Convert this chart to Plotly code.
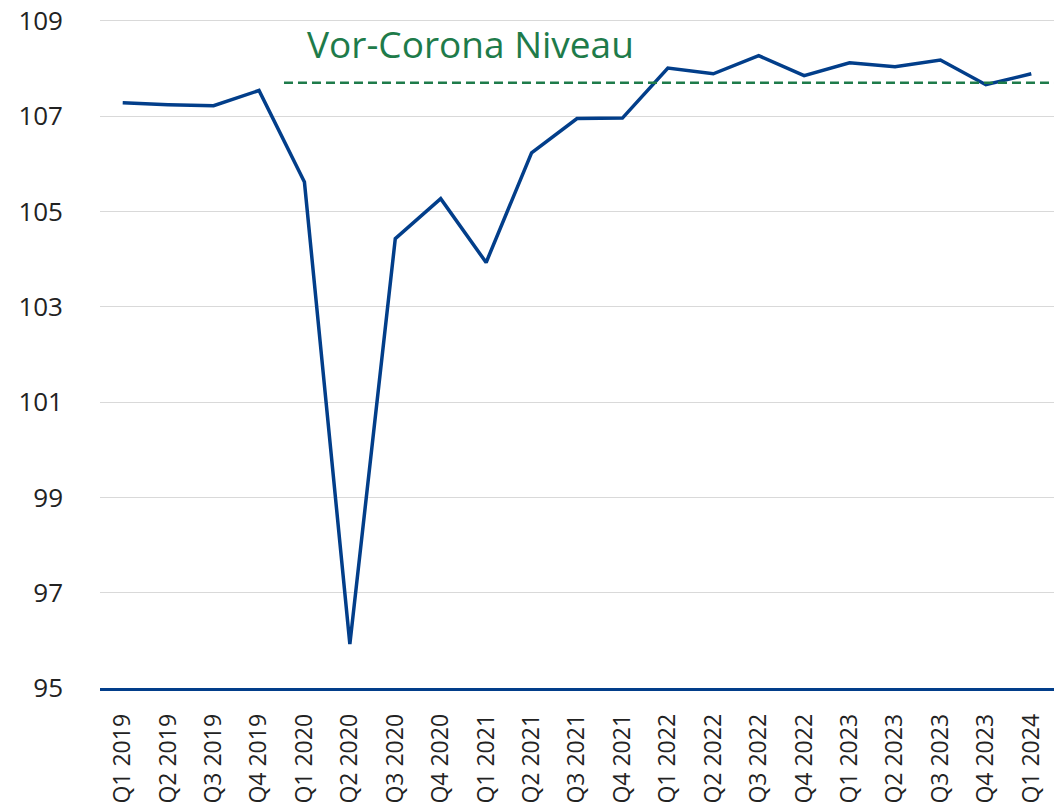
import plotly.graph_objects as go

quarters = ["Q1 2019", "Q2 2019", "Q3 2019", "Q4 2019",
            "Q1 2020", "Q2 2020", "Q3 2020", "Q4 2020",
            "Q1 2021", "Q2 2021", "Q3 2021", "Q4 2021",
            "Q1 2022", "Q2 2022", "Q3 2022", "Q4 2022",
            "Q1 2023", "Q2 2023", "Q3 2023", "Q4 2023",
            "Q1 2024"]
values = [107.28, 107.24, 107.22, 107.54,
          105.62, 95.92, 104.43, 105.27,
          103.93, 106.23, 106.95, 106.96,
          108.01, 107.89, 108.27, 107.85,
          108.12, 108.04, 108.18, 107.66,
          107.89]
pre_corona_level = 107.7
pre_corona_label = "Vor-Corona Niveau"
y_ticks = [95, 97, 99, 101, 103, 105, 107, 109]

FONT = "Open Sans"

fig = go.Figure()
fig.add_trace(go.Scatter(
    x=quarters, y=values, mode="lines",
    line=dict(color="#023e8a", width=3.5),
    showlegend=False, hoverinfo="x+y",
))

fig.add_shape(type="line", xref="x", yref="y",
              x0=3.55, x1=20.5, y0=pre_corona_level, y1=pre_corona_level,
              line=dict(color="#1e7b4a", width=2.5, dash="9px,5px"))
fig.add_annotation(x=4.02, y=108.52, xref="x", yref="y", text=pre_corona_label,
                   showarrow=False, xanchor="left", yanchor="middle",
                   font=dict(family=FONT, size=37, color="#1e7b4a"))

fig.update_layout(
    width=1054, height=809,
    margin=dict(l=100, r=0, t=19, b=121),
    paper_bgcolor="white", plot_bgcolor="white",
    font=dict(family=FONT, color="#222222"),
)
fig.update_xaxes(
    type="category", range=[-0.5, 20.5], automargin=False,
    tickangle=-90, tickfont=dict(size=23, color="#222222"),
    showgrid=False, showline=True, linecolor="#023e8a", linewidth=2.5,
    ticks="", ticklabelstandoff=14,
)
fig.update_yaxes(
    range=[95, 109.04], tickvals=y_ticks, automargin=False,
    tickfont=dict(size=26, color="#222222"), ticklabeloverflow="allow",
    showgrid=True, gridcolor="#d9d9d9", gridwidth=1,
    zeroline=False, showline=False, ticks="", ticklabelstandoff=36,
)

fig.write_html(
    "out.html",
    config={"displayModeBar": False},
    post_script="document.body.style.margin='0';document.body.style.overflow='hidden';",
)
